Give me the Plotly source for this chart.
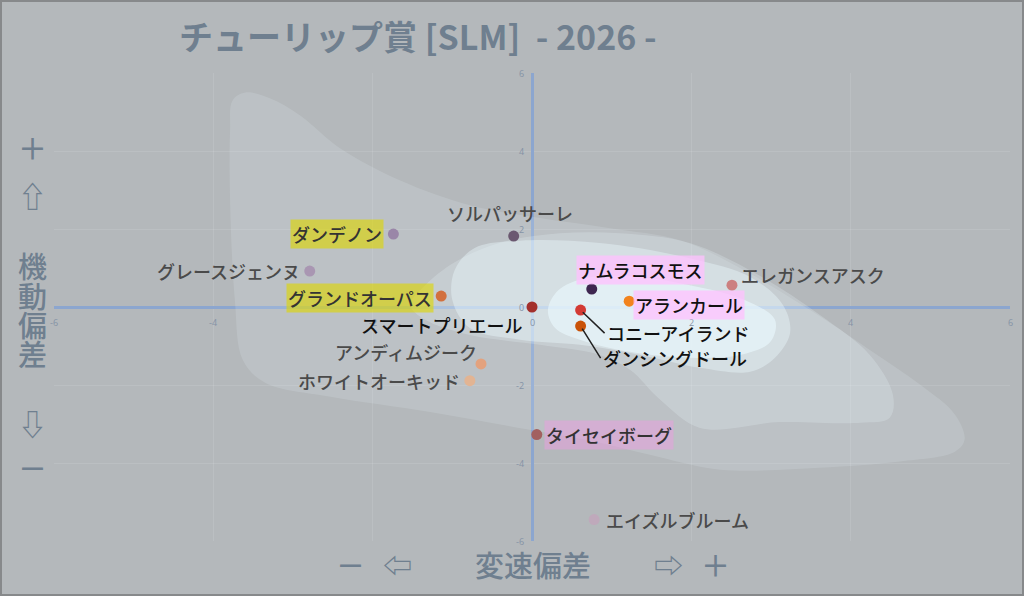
import plotly.graph_objects as go

# --- data ---
horses = ["ダンデノン", "ソルパッサーレ", "グレースジェンヌ", "グランドオーパス", "スマートプリエール",
          "ナムラコスモス", "アランカール", "エレガンスアスク", "コニーアイランド", "ダンシングドール",
          "アンディムジーク", "ホワイトオーキッド", "タイセイボーグ", "エイズルブルーム"]
speed_dev = [-1.74, -0.23, -2.79, -1.14, 0.0, 0.75, 1.22, 2.51, 0.61, 0.61, -0.64, -0.78, 0.06, 0.78]
move_dev = [1.87, 1.82, 0.92, 0.28, 0.0, 0.46, 0.15, 0.56, -0.08, -0.49, -1.46, -1.89, -3.27, -5.45]
dot_colors = ["#9a86a8", "#6b5870", "#a996b2", "#d2703e", "#a3302c", "#3e2650", "#f2831e", "#cc8080",
              "#d33a34", "#c95208", "#e3a27e", "#e2b493", "#a26060", "#bfa9bb"]

# density contour outlines (speed, move), outer -> inner
c1_x = [-3.76, -3.60, -3.29, -2.91, -2.41, -1.66, -0.78, 0.10, 0.98, 1.86, 2.61, 3.49, 4.24, 4.87, 5.31,
        5.43, 5.31, 4.62, 3.61, 2.36, 1.48, 0.85, -0.03, -1.28, -2.53, -3.35, -3.63, -3.73, -3.79, -3.79, -3.76]
c1_y = [5.29, 5.50, 5.35, 4.91, 4.07, 3.25, 2.61, 2.28, 2.02, 1.71, 1.00, -0.08, -1.10, -1.99, -2.76,
        -3.40, -3.71, -3.96, -4.12, -4.17, -3.79, -3.48, -3.15, -2.69, -2.30, -1.94, -1.36, 0.18, 2.74, 4.53, 5.29]
c2_x = [-1.53, -1.34, -0.97, -0.40, 0.35, 1.10, 1.98, 2.86, 3.61, 4.24, 4.53, 4.49, 4.12, 3.11, 2.11,
        1.61, 1.23, 0.85, 0.10, -0.78, -1.34, -1.53]
c2_y = [0.05, 0.56, 1.15, 1.65, 1.89, 1.89, 1.64, 0.80, -0.20, -1.23, -2.25, -2.84, -2.97, -2.95, -3.10,
        -2.38, -1.61, -1.23, -0.97, -0.72, -0.33, 0.05]
c3_x = [-1.00, -0.97, -0.72, -0.15, 0.85, 1.98, 2.74, 3.15, 3.24, 3.05, 2.74, 2.11, 1.36, 0.60, -0.15, -0.78, -1.00]
c3_y = [0.18, 0.95, 1.51, 1.70, 1.64, 1.25, 0.77, 0.05, -0.66, -1.30, -1.66, -1.56, -1.23, -0.97, -0.84, -0.54, 0.18]
c4_x = [0.20, 0.33, 0.67, 1.23, 1.98, 2.67, 3.05, 2.99, 2.61, 1.98, 1.23, 0.60, 0.29, 0.20]
c4_y = [-0.08, 0.43, 0.74, 0.79, 0.56, 0.18, -0.33, -0.90, -1.23, -1.30, -1.15, -0.84, -0.54, -0.08]

ticks = [-6, -4, -2, 0, 2, 4, 6]

W, H = 1024, 596
ML, MR, MT, MB = 54, 14, 73, 55
BG = "#b4b8bb"
AXC = "#6f7f8f"
JP = "Noto Sans CJK JP, DejaVu Sans"


def px_x(p):
    return (p - ML) / (W - ML - MR)


def px_y(p):
    return (H - MB - p) / (H - MT - MB)


fig = go.Figure()

for cx, cy, a in [(c1_x, c1_y, 0.15), (c2_x, c2_y, 0.22), (c3_x, c3_y, 0.4), (c4_x, c4_y, 0.6)]:
    fig.add_trace(go.Scatter(x=cx, y=cy, mode="lines", fill="toself", line=dict(width=0, shape="spline", smoothing=1.0),
                             fillcolor=f"rgba(235,250,255,{a})", hoverinfo="skip", showlegend=False))

fig.add_trace(go.Scatter(x=speed_dev, y=move_dev, mode="markers", text=horses,
                         marker=dict(size=11, color=dot_colors), showlegend=False))

# tick labels sit along the crossing axes
for t in ticks:
    fig.add_annotation(x=t, y=0, text=str(t), showarrow=False, yanchor="top", yshift=-7,
                       font=dict(size=9, color="#8593a6"))
    fig.add_annotation(x=0, y=t, text=str(t), showarrow=False, xanchor="right", xshift=-6,
                       font=dict(size=9, color="#8593a6"))

# label placement: xanchor, xshift, yshift, text colour, background
yellow = "rgba(222,214,0,0.62)"
pink = "rgba(255,192,255,0.75)"
pink2 = "rgba(236,158,226,0.5)"
lab = {
    "ダンデノン": ("right", -9, 0, "#333", yellow),
    "ソルパッサーレ": ("center", -4, 23, "#4a4a4a", None),
    "グレースジェンヌ": ("right", -8, 0, "#4a4a4a", None),
    "グランドオーパス": ("right", -7, -2, "#333", yellow),
    "スマートプリエール": ("right", -8, -18, "#111", None),
    "ナムラコスモス": ("left", -16, 19, "#111", pink),
    "アランカール": ("left", 4, -4, "#111", pink),
    "エレガンスアスク": ("left", 7, 10, "#4a4a4a", None),
    "アンディムジーク": ("right", -2, 12, "#4a4a4a", None),
    "ホワイトオーキッド": ("right", -8, 0, "#4a4a4a", None),
    "タイセイボーグ": ("left", 7, 0, "#333", pink2),
    "エイズルブルーム": ("left", 10, 0, "#4a4a4a", None),
}
for name, sx, sy in zip(horses, speed_dev, move_dev):
    if name in lab:
        xa, xs, ys, col, bg = lab[name]
        fig.add_annotation(x=sx, y=sy, text=name, showarrow=False, xanchor=xa, yanchor="middle",
                           xshift=xs, yshift=ys, font=dict(family=JP, size=18, color=col, weight=500),
                           bgcolor=bg if bg else "rgba(0,0,0,0)", borderpad=1)

# leader-line labels
for name, ax, ay in [("コニーアイランド", 24, 23), ("ダンシングドール", 20, 32)]:
    i = horses.index(name)
    fig.add_annotation(x=speed_dev[i], y=move_dev[i], text=name, showarrow=True, arrowhead=0,
                       arrowwidth=1.5, arrowcolor="#222", ax=ax, ay=ay, xanchor="left", yanchor="middle",
                       standoff=3, font=dict(family=JP, size=18, color="#111", weight=500))

# title and axis captions
fig.add_annotation(xref="paper", yref="paper", x=px_x(418), y=px_y(35), text="<b>チューリップ賞 [SLM]  - 2026 -</b>",
                   showarrow=False, xanchor="center", yanchor="middle", font=dict(family=JP, size=34, color=AXC))
for t, py in [("＋", 147), ("⇧", 195), ("機", 265), ("動", 295), ("偏", 324), ("差", 353), ("⇩", 423), ("－", 467)]:
    fig.add_annotation(xref="paper", yref="paper", x=px_x(32), y=px_y(py), text=t, showarrow=False,
                       xanchor="center", yanchor="middle", font=dict(family=JP, size=29, color=AXC, weight=500))
for t, pxx in [("－", 350), ("⇦", 397), ("変速偏差", 533), ("⇨", 668), ("＋", 715)]:
    fig.add_annotation(xref="paper", yref="paper", x=px_x(pxx), y=px_y(564), text=t, showarrow=False,
                       xanchor="center", yanchor="middle", font=dict(family=JP, size=29, color=AXC, weight=500))

axis_common = dict(range=[-6, 6], tickvals=ticks, showgrid=True, gridcolor="rgba(255,255,255,0.10)",
                   zeroline=True, zerolinecolor="#8ca6cf", zerolinewidth=2.5, showline=False,
                   showticklabels=False, ticks="", fixedrange=True)
fig.update_layout(
    width=W, height=H,
    margin=dict(l=ML, r=MR, t=MT, b=MB),
    paper_bgcolor=BG, plot_bgcolor=BG,
    xaxis=axis_common,
    yaxis=axis_common,
    shapes=[dict(type="rect", xref="paper", yref="paper", x0=px_x(1), x1=px_x(W - 1), y0=px_y(H - 1), y1=px_y(1),
                 line=dict(color="#87898b", width=2), layer="above")],
)

fig.write_html("out.html", config={"displayModeBar": False}, post_script="document.body.style.margin='0';")
